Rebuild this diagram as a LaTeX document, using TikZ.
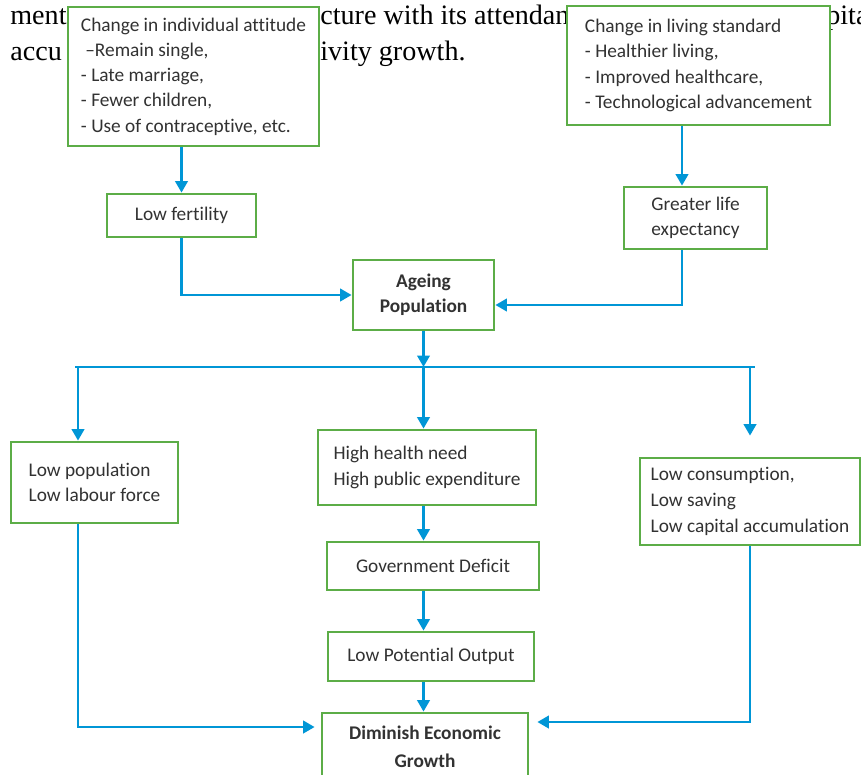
\documentclass[tikz,border=0pt]{standalone}
\usepackage{fontspec}
\setmainfont{Carlito}[Ligatures=NoCommon]
\newfontfamily\pagefont{Liberation Serif}
\usetikzlibrary{positioning,arrows.meta,calc}

\definecolor{boxgreen}{RGB}{92,173,71}
\definecolor{flowblue}{RGB}{0,150,214}
\definecolor{boxtext}{RGB}{50,50,50}

\begin{document}
\begin{tikzpicture}[
	x=0.02cm, y=-0.02cm,
	mybox/.style={draw=boxgreen,line width=1.6pt,fill=white,text=boxtext,
		font=\fontsize{11}{14.4}\selectfont,inner sep=0pt,align=left},
	midbox/.style={mybox,align=center},
	flow/.style={draw=flowblue,line width=1.4pt},
	flowarrow/.style={flow,-{Triangle[length=2.3mm,width=2.5mm]}},
	pagetext/.style={font=\pagefont\fontsize{16}{16}\selectfont,inner sep=0pt,anchor=base west}
	]
	\useasboundingbox (0,0) rectangle (861,774);
	% page text behind the chart
	\node[pagetext] (pageA) at (10,24) {ment};
	\node[pagetext] (pageB) at (320,24) {cture with its attendan};
	\node[pagetext] (pageC) at (826,24) {pita};
	\node[pagetext] (pageD) at (10,60) {accu};
	\node[pagetext] (pageE) at (320,60) {ivity growth.};
	% boxes
	\node[mybox,minimum width=5.02cm,minimum height=2.78cm] (attitude) at (193.5,76.5)
		{Change in individual attitude\\\ –Remain single,\\- Late marriage,\\- Fewer children,\\- Use of contraceptive, etc.};
	\node[mybox,minimum width=5.26cm,minimum height=2.38cm] (living) at (698.5,65.5)
		{Change in living standard\\- Healthier living,\\- Improved healthcare,\\- Technological advancement};
	\node[midbox,minimum width=2.98cm,minimum height=0.86cm] (fertility) at (181.5,215.5) {Low fertility};
	\node[midbox,minimum width=2.86cm,minimum height=1.24cm] (lifeexp) at (695.5,218) {Greater life\\expectancy};
	\node[midbox,minimum width=2.82cm,minimum height=1.40cm,font=\bfseries\fontsize{11}{14.4}\selectfont] (ageing) at (423.5,295) {Ageing\\Population};
	\node[mybox,minimum width=3.34cm,minimum height=1.62cm] (lowpop) at (94.5,482.5) {Low population\\Low labour force};
	\node[mybox,minimum width=4.36cm,minimum height=1.50cm,font=\fontsize{11}{15}\selectfont] (health) at (427,467.5) {High health need\\High public expenditure};
	\node[mybox,minimum width=4.40cm,minimum height=1.74cm,font=\fontsize{11}{15}\selectfont] (consum) at (750,501.5) {Low consumption,\\Low saving\\Low capital accumulation};
	\node[midbox,minimum width=4.24cm,minimum height=0.96cm] (deficit) at (433,566) {Government Deficit};
	\node[midbox,minimum width=4.12cm,minimum height=0.98cm] (potential) at (431,656.5) {Low Potential Output};
	\node[midbox,minimum width=4.12cm,minimum height=1.36cm,font=\bfseries\fontsize{11}{16}\selectfont] (growth) at (425,747) {Diminish Economic\\Growth};
	% connectors
	\coordinate (busL) at (75,367);
	\coordinate (busR) at (755,367);
	\draw[flowarrow] (attitude.south -| fertility.north) -- (fertility.north);
	\draw[flowarrow] ([xshift=-0.27cm]lifeexp.north |- living.south) -- ([xshift=-0.27cm]lifeexp.north);
	\draw[flowarrow] (fertility.south) |- (ageing.west);
	\draw[flowarrow] ([xshift=-0.27cm]lifeexp.south) |- ([yshift=-0.2cm]ageing.east);
	\draw[flow] (busL) -- (busR);
	\draw[flowarrow] (ageing.south) -- (ageing.south |- busL);
	\draw[flowarrow] ([xshift=-0.33cm]lowpop.north |- busL) -- ([xshift=-0.33cm]lowpop.north);
	\draw[flowarrow] (ageing.south |- busL) -- (ageing.south |- health.north);
	\draw[flowarrow] (consum.north |- busR) -- ([yshift=0.42cm]consum.north);
	\draw[flowarrow] (ageing.south |- health.south) -- (ageing.south |- deficit.north);
	\draw[flowarrow] (ageing.south |- deficit.south) -- (ageing.south |- potential.north);
	\draw[flowarrow] (ageing.south |- potential.south) -- (ageing.south |- growth.north);
	\draw[flowarrow] ([xshift=-0.33cm]lowpop.south) |- ([xshift=-0.12cm,yshift=0.4cm]growth.west);
	\draw[flowarrow] (consum.south) |- ([xshift=0.16cm,yshift=0.5cm]growth.east);
\end{tikzpicture}
\end{document}
